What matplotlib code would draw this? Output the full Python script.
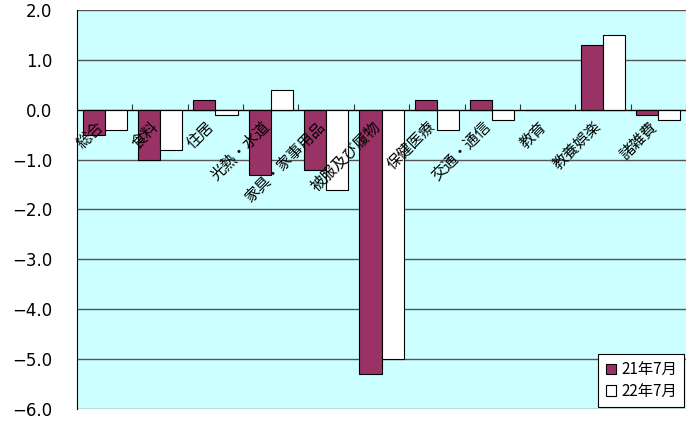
import matplotlib
matplotlib.use("Agg")
import matplotlib.pyplot as plt
import numpy as np
from matplotlib.patches import Patch

plt.rcParams['font.family'] = ['Noto Sans CJK JP', 'DejaVu Sans']

categories = ["総合", "食料", "住居", "光熱・水道", "家具・家事用品", "被服及び履物",
              "保健医療", "交通・通信", "教育", "教養娯楽", "諸雑費"]
series_names = ["21年7月", "22年7月"]
vals_21 = [-0.5, -1.0, 0.2, -1.3, -1.2, -5.3, 0.2, 0.2, 0.0, 1.3, -0.1]
vals_22 = [-0.4, -0.8, -0.1, 0.4, -1.6, -5.0, -0.4, -0.2, 0.0, 1.5, -0.2]
yticks = [2.0, 1.0, 0.0, -1.0, -2.0, -3.0, -4.0, -5.0, -6.0]

fig = plt.figure(figsize=(6.86, 4.23), dpi=100)
ax = fig.add_axes([77/686, 1-409/423, 1-77/686, 399/423])
ax.set_facecolor('#CCFFFF')

x = np.arange(len(categories))
w = 0.4
ax.bar(x - w/2, vals_21, w, color='#993366', edgecolor='black', linewidth=0.8, zorder=3)
ax.bar(x + w/2, vals_22, w, color='white', edgecolor='black', linewidth=0.8, zorder=3)

ax.set_xlim(-0.5, len(categories) - 0.5)
ax.set_ylim(-6, 2)
ax.set_yticks(yticks)
ax.set_yticklabels([f"{v:.1f}".replace('-', '\u2212') for v in yticks],
                   fontfamily='DejaVu Sans', fontsize=12)
ax.tick_params(axis='y', length=0, pad=18)
for v in yticks:
    ax.axhline(v, color='#555555', linewidth=1.0, zorder=1)

# category axis at zero
ax.spines['bottom'].set_position(('data', 0))
ax.spines['bottom'].set_zorder(4)
ax.set_xticks(np.arange(len(categories) + 1) - 0.5)
ax.set_xticklabels([])
ax.tick_params(axis='x', direction='in', length=4, color='#333333')
ax.spines['top'].set_visible(False)
ax.spines['right'].set_visible(False)
ax.spines['left'].set_color('black')

for i, c in enumerate(categories):
    ax.annotate(c, xy=(i, 0), xytext=(-7, -6), textcoords='offset points',
                rotation=45, ha='right', va='top', rotation_mode='anchor',
                fontsize=11, zorder=5)

handles = [Patch(facecolor='#993366', edgecolor='black', linewidth=0.8),
           Patch(facecolor='white', edgecolor='black', linewidth=0.8)]
leg = ax.legend(handles, series_names, loc='lower right', fontsize=11,
                frameon=True, fancybox=False, framealpha=1, edgecolor='black',
                handlelength=0.7, handleheight=0.7, handletextpad=0.3,
                borderaxespad=0.1, labelspacing=0.3, borderpad=0.5)
leg.get_frame().set_linewidth(0.8)

fig.savefig('out.png', dpi=100)
